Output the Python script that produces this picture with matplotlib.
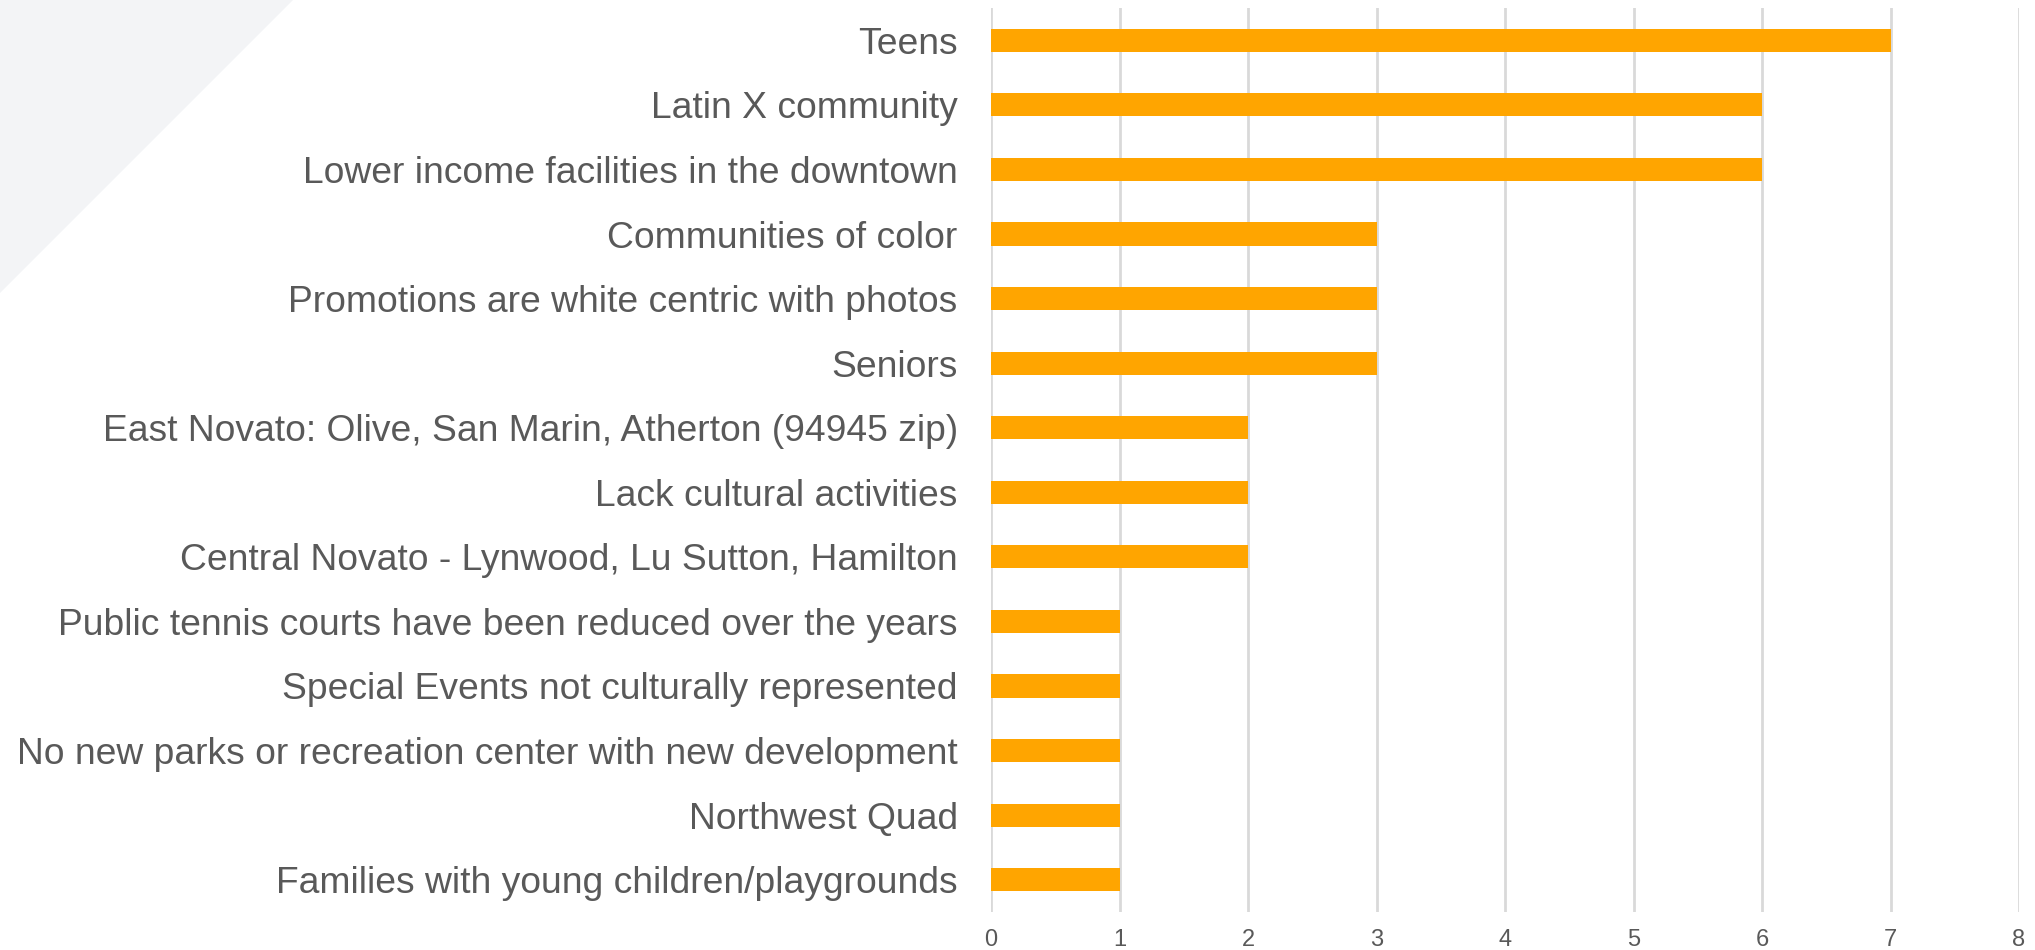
import matplotlib
matplotlib.use("Agg")
import matplotlib.pyplot as plt
from matplotlib.patches import Polygon

categories = [
    "Teens",
    "Latin X community",
    "Lower income facilities in the downtown",
    "Communities of color",
    "Promotions are white centric with photos",
    "Seniors",
    "East Novato: Olive, San Marin, Atherton (94945 zip)",
    "Lack cultural activities",
    "Central Novato - Lynwood, Lu Sutton, Hamilton",
    "Public tennis courts have been reduced over the years",
    "Special Events not culturally represented",
    "No new parks or recreation center with new development",
    "Northwest Quad",
    "Families with young children/playgrounds",
]
values = [7, 6, 6, 3, 3, 3, 2, 2, 2, 1, 1, 1, 1, 1]
x_ticks = [0, 1, 2, 3, 4, 5, 6, 7, 8]

plt.rcParams['font.family'] = ['Liberation Sans', 'DejaVu Sans']

W, H = 2035, 950
fig = plt.figure(figsize=(W / 100, H / 100), dpi=100)
fig.patch.set_facecolor("white")

# decorative background triangle in top-left corner
tri = Polygon([(0, 1), (293 / W, 1), (0, 1 - 293 / H)], closed=True,
              transform=fig.transFigure, facecolor="#f3f4f6", edgecolor="none", zorder=0)
fig.patches.append(tri)

ax = fig.add_axes([991 / W, 1 - 912 / H, (2019 - 991) / W, (912 - 8) / H])
ax.patch.set_alpha(0)

ypos = list(range(len(categories)))
ax.barh(ypos, values, height=0.36, color="#FFA500", zorder=3)

ax.set_ylim(len(categories) - 0.5, -0.5)
ax.set_xlim(0, 8)
ax.set_yticks(ypos)
ax.set_yticklabels(categories, fontsize=26.8, color="#595959")
ax.set_xticks(x_ticks)
ax.set_xticklabels([str(t) for t in x_ticks], fontsize=17, color="#595959")

ax.tick_params(axis="y", length=0, pad=24)
ax.tick_params(axis="x", length=0, pad=12)
ax.grid(axis="x", color="#d9d9d9", linewidth=2, zorder=0)
for s in ax.spines.values():
    s.set_visible(False)

fig.savefig("out.png", dpi=100, facecolor="white")
